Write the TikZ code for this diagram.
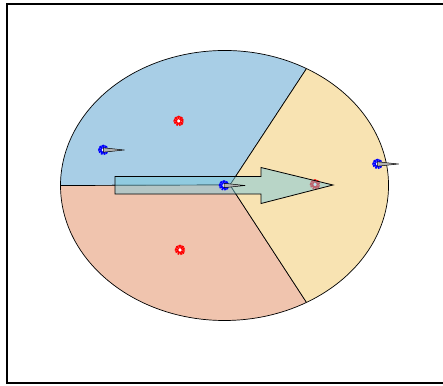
\documentclass[tikz,border=0pt]{standalone}
\usetikzlibrary{shapes,arrows,positioning,calc}
\definecolor{sectorblue}{RGB}{168,206,230}
\definecolor{sectorred}{RGB}{240,196,174}
\definecolor{sectoryellow}{RGB}{248,227,178}
\definecolor{arrowteal}{RGB}{122,201,220}

\begin{document}
\begin{tikzpicture}[x=1pt, y=-1pt]

\tikzstyle{sector} = [draw=black, line width=0.7pt, line join=round];
\tikzstyle{redmark} = [circle, draw=red, line width=3.4pt, fill=white, inner sep=0pt, minimum size=7pt, dash pattern=on 1.8pt off 0.5pt];
\tikzstyle{bluemark} = [circle, draw=blue, line width=3.4pt, fill=white, inner sep=0pt, minimum size=7pt, dash pattern=on 1.8pt off 0.5pt];
\tikzstyle{quiver} = [draw=black, fill=gray!60, line width=0.5pt, line join=round];
\tikzstyle{bigarrow} = [draw=black, line width=0.8pt, fill=arrowteal, fill opacity=0.5, line join=miter];

\useasboundingbox (0,0) rectangle (443,385);

% Bingkai
\draw[line width=1.4pt] (446,4) -- (7,4) -- (7,383) -- (446,383);

% Elips dan sektor
\coordinate (mid) at (224.5,185.5);
\coordinate (hub) at (230,185);
\path[sector, fill=sectorblue] (hub) -- ($(mid)+(-60:164 and 135)$) arc[start angle=-60, end angle=-180, x radius=164, y radius=135] -- cycle;
\path[sector, fill=sectorred] (hub) -- ($(mid)+(180:164 and 135)$) arc[start angle=180, end angle=60, x radius=164, y radius=135] -- cycle;
\path[sector, fill=sectoryellow] (hub) -- ($(mid)+(60:164 and 135)$) arc[start angle=60, end angle=-60, x radius=164, y radius=135] -- cycle;

% Titik merah
\node (r1) [redmark] at (178.7,121) {};
\node (r2) [redmark] at (180,250) {};
\node (r3) [redmark] at (315,184.5) {};

% Panah besar
\draw[bigarrow] (115,176.5) -- (261,176.5) -- (261,167.5) -- (333,185) -- (261,203.5) -- (261,194) -- (115,194) -- cycle;

% Titik biru dan panah kecil
\node (b1) [bluemark] at (103.3,150) {};
\node (b2) [bluemark] at (377.5,164) {};
\node (b3) [bluemark] at (224,185.5) {};
\draw[quiver] ($(b1.center)+(0,-2.2)$) -- ($(b1.center)+(21,0)$) -- ($(b1.center)+(0,2.2)$) -- cycle;
\draw[quiver] ($(b2.center)+(0,-2.2)$) -- ($(b2.center)+(21,0)$) -- ($(b2.center)+(0,2.2)$) -- cycle;
\draw[quiver] ($(b3.center)+(0,-2.2)$) -- ($(b3.center)+(21,0)$) -- ($(b3.center)+(0,2.2)$) -- cycle;

\end{tikzpicture}
\end{document}
